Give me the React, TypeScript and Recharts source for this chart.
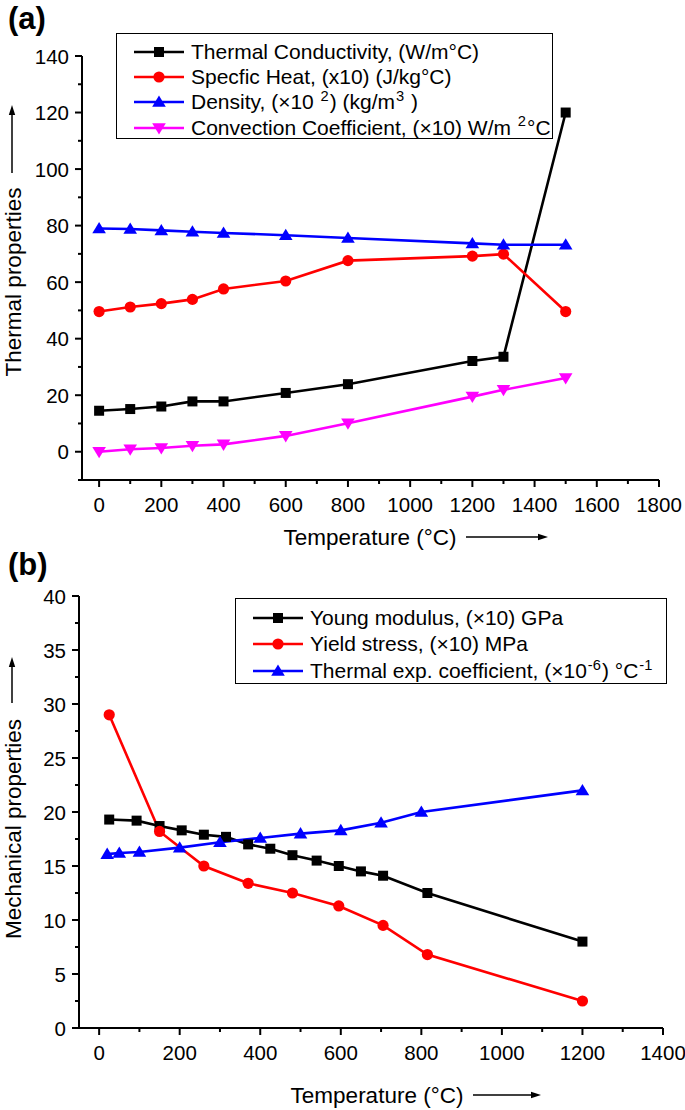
import React from 'react';
import { Legend, Line, LineChart, XAxis, YAxis } from 'recharts';

const FONT = '"Liberation Sans", Arial, Helvetica, sans-serif';

// (a) thermal properties vs temperature
const tempA = [0, 100, 200, 300, 400, 600, 800, 1200, 1300, 1500];
const conductivity = [14.5, 15.1, 16, 17.8, 17.8, 20.8, 23.9, 32.1, 33.6, 120];
const specificHeat = [49.6, 51.2, 52.4, 53.9, 57.6, 60.4, 67.6, 69.2, 69.9, 49.6];
const density = [79, 78.8, 78.3, 77.8, 77.4, 76.6, 75.6, 73.7, 73.2, 73.2];
const convection = [0, 0.9, 1.3, 2.1, 2.6, 5.6, 10.1, 19.5, 21.9, 26.1];

// (b) mechanical properties vs temperature
const tempYoung = [25, 93, 150, 205, 260, 315, 370, 425, 480, 540, 595, 650, 705, 815, 1200];
const young = [19.3, 19.2, 18.7, 18.3, 17.9, 17.7, 17, 16.6, 16, 15.5, 15, 14.5, 14.1, 12.5, 8];
const tempYield = [25, 150, 260, 370, 480, 595, 705, 815, 1200];
const yieldStress = [29, 18.2, 15, 13.4, 12.5, 11.3, 9.5, 6.8, 2.5];
const tempExpansion = [20, 50, 100, 200, 300, 400, 500, 600, 700, 800, 1200];
const expansion = [16.1, 16.2, 16.3, 16.7, 17.2, 17.6, 18, 18.3, 19, 20, 22];

// ticks (minor ones get no label)
const ticksXA = [0, 100, 200, 300, 400, 500, 600, 700, 800, 900, 1000, 1100, 1200, 1300, 1400, 1500, 1600, 1700, 1800];
const ticksYA = [-10, 0, 10, 20, 30, 40, 50, 60, 70, 80, 90, 100, 110, 120, 130, 140];
const ticksXB = [0, 100, 200, 300, 400, 500, 600, 700, 800, 900, 1000, 1100, 1200, 1300, 1400];
const ticksYB = [0, 2.5, 5, 7.5, 10, 12.5, 15, 17.5, 20, 22.5, 25, 27.5, 30, 32.5, 35, 37.5, 40];

const thermalRows = tempA.map((t, i) => ({
  t,
  k: conductivity[i],
  cp: specificHeat[i],
  rho: density[i],
  h: convection[i],
}));
const youngRows = tempYoung.map((t, i) => ({ t, young: young[i] }));
const yieldRows = tempYield.map((t, i) => ({ t, ys: yieldStress[i] }));
const expansionRows = tempExpansion.map((t, i) => ({ t, alpha: expansion[i] }));

type Shape = 'square' | 'circle' | 'up' | 'down';
const markerOf: Record<string, Shape> = {
  k: 'square',
  cp: 'circle',
  rho: 'up',
  h: 'down',
  young: 'square',
  ys: 'circle',
  alpha: 'up',
};
const legendOrder = ['k', 'cp', 'rho', 'h', 'young', 'ys', 'alpha'];

const LW = 2.6;

function Marker({ shape, cx, cy, color }: { shape: Shape; cx: number; cy: number; color: string }) {
  if (cx == null || cy == null) return <g />;
  switch (shape) {
    case 'square':
      return <rect x={cx - 5} y={cy - 5} width={10} height={10} fill={color} />;
    case 'circle':
      return <circle cx={cx} cy={cy} r={5.6} fill={color} />;
    case 'up':
      return <polygon points={`${cx},${cy - 6.5} ${cx - 6.8},${cy + 4.8} ${cx + 6.8},${cy + 4.8}`} fill={color} />;
    default:
      return <polygon points={`${cx},${cy + 6.5} ${cx - 6.8},${cy - 4.8} ${cx + 6.8},${cy - 4.8}`} fill={color} />;
  }
}

const dotFor = (key: string, color: string) => (p: any) =>
  <Marker key={`${key}-${p.index}`} shape={markerOf[key]} cx={p.cx} cy={p.cy} color={color} />;

function AxisTick(props: any) {
  const { x, y, payload, side, step } = props;
  const v = payload.value;
  const major = Math.abs(v % step) < 1e-6;
  const len = major ? 7 : 4;
  if (side === 'x') {
    return (
      <g>
        <line x1={x} x2={x} y1={y} y2={y + len} stroke="#000" strokeWidth={2} />
        {major && (
          <text x={x} y={y + 24} textAnchor="middle" dominantBaseline="central" fontSize={20.5} fontFamily={FONT} fill="#000">
            {v}
          </text>
        )}
      </g>
    );
  }
  return (
    <g>
      <line x1={x} x2={x - len} y1={y} y2={y} stroke="#000" strokeWidth={2} />
      {major && (
        <text x={x - 13} y={y} textAnchor="end" dominantBaseline="central" fontSize={20.5} fontFamily={FONT} fill="#000">
          {v}
        </text>
      )}
    </g>
  );
}

function Arrow({ x1, y1, x2, y2 }: { x1: number; y1: number; x2: number; y2: number }) {
  const ang = Math.atan2(y2 - y1, x2 - x1);
  const L = 10;
  const W = 3.2;
  const bx = x2 - L * Math.cos(ang);
  const by = y2 - L * Math.sin(ang);
  const px = -Math.sin(ang) * W;
  const py = Math.cos(ang) * W;
  return (
    <g>
      <line x1={x1} y1={y1} x2={bx} y2={by} stroke="#000" strokeWidth={1.5} />
      <polygon points={`${x2},${y2} ${bx + px},${by + py} ${bx - px},${by - py}`} fill="#000" />
    </g>
  );
}

// axis title with the trailing arrow, offsets relative to the axis box
function XTitle({ viewBox, text, textX, arrowFrom, arrowTo, dy }: any) {
  const { x, y } = viewBox;
  return (
    <g>
      <text x={x + textX} y={y + dy} textAnchor="middle" dominantBaseline="central" fontSize={22.5} fontFamily={FONT} fill="#000">
        {text}
      </text>
      <Arrow x1={x + arrowFrom} y1={y + dy} x2={x + arrowTo} y2={y + dy} />
    </g>
  );
}

function YTitle({ viewBox, text, textY, arrowFrom, arrowTo, cx }: any) {
  const { y } = viewBox;
  return (
    <g>
      <text
        x={cx}
        y={y + textY}
        transform={`rotate(-90, ${cx}, ${y + textY})`}
        textAnchor="middle"
        dominantBaseline="central"
        fontSize={22.5}
        fontFamily={FONT}
        fill="#000"
      >
        {text}
      </text>
      <Arrow x1={cx - 1} y1={y + arrowFrom} x2={cx - 1} y2={y + arrowTo} />
    </g>
  );
}

function richText(s: string) {
  const parts = s.split(/\^\{([^}]*)\}/);
  return parts.map((p, i) =>
    i % 2 ? (
      <span key={i} style={{ fontSize: '0.7em', position: 'relative', top: '-0.55em', lineHeight: 0, padding: '0 1px' }}>
        {p}
      </span>
    ) : (
      <span key={i}>{p}</span>
    ),
  );
}

function LegendBox({ payload, rowTop, rowH }: any) {
  const items = [...(payload || [])].sort(
    (a: any, b: any) => legendOrder.indexOf(a.dataKey) - legendOrder.indexOf(b.dataKey),
  );
  return (
    <div
      style={{
        width: '100%',
        height: '100%',
        boxSizing: 'border-box',
        border: '1.5px solid #000',
        background: '#fff',
        overflow: 'hidden',
        paddingTop: rowTop,
        fontFamily: FONT,
        fontSize: 21,
        color: '#000',
      }}
    >
      {items.map((e: any) => (
        <div key={e.dataKey} style={{ display: 'flex', alignItems: 'center', height: rowH, whiteSpace: 'nowrap' }}>
          <svg width={50} height={14} style={{ marginLeft: 17, flex: 'none' }}>
            <line x1={0} x2={50} y1={7} y2={7} stroke={e.color} strokeWidth={LW} />
            <Marker shape={markerOf[e.dataKey]} cx={25} cy={7} color={e.color} />
          </svg>
          <span style={{ marginLeft: 7 }}>{richText(e.value)}</span>
        </div>
      ))}
    </div>
  );
}

const axisLine = { stroke: '#000', strokeWidth: 2 };

function ThermalChart() {
  return (
    <LineChart width={685} height={560} data={thermalRows} margin={{ top: 56, right: 26, bottom: 40, left: 0 }}>
      <XAxis
        dataKey="t"
        type="number"
        domain={[-55, 1800]}
        ticks={ticksXA}
        interval={0}
        height={40}
        tickSize={0}
        tickMargin={0}
        tickLine={false}
        axisLine={axisLine}
        tick={<AxisTick side="x" step={200} />}
        label={{
          content: (p: any) => (
            <XTitle viewBox={p.viewBox} text="Temperature (°C)" textX={288} arrowFrom={384} arrowTo={466} dy={57} />
          ),
        }}
      />
      <YAxis
        type="number"
        domain={[-10, 140]}
        ticks={ticksYA}
        interval={0}
        width={82}
        tickSize={0}
        tickMargin={0}
        tickLine={false}
        axisLine={axisLine}
        tick={<AxisTick side="y" step={20} />}
        label={{
          content: (p: any) => (
            <YTitle viewBox={p.viewBox} text="Thermal properties" cx={13} textY={226} arrowFrom={117} arrowTo={49} />
          ),
        }}
      />
      <Legend
        layout="vertical"
        align="center"
        verticalAlign="middle"
        wrapperStyle={{ left: 116, top: 33, width: 437, height: 106 }}
        content={(p: any) => <LegendBox payload={p.payload} rowTop={5} rowH={25.3} />}
      />
      <Line dataKey="k" name="Thermal Conductivity, (W/m°C)" stroke="#000000" strokeWidth={LW} dot={dotFor('k', '#000000')} isAnimationActive={false} />
      <Line dataKey="cp" name="Specfic Heat, (x10) (J/kg°C)" stroke="#ff0000" strokeWidth={LW} dot={dotFor('cp', '#ff0000')} isAnimationActive={false} />
      <Line dataKey="rho" name="Density, (×10 ^{2}) (kg/m^{3} )" stroke="#0000ff" strokeWidth={LW} dot={dotFor('rho', '#0000ff')} isAnimationActive={false} />
      <Line dataKey="h" name="Convection Coefficient, (×10) W/m ^{2}°C" stroke="#ff00ff" strokeWidth={LW} dot={dotFor('h', '#ff00ff')} isAnimationActive={false} />
    </LineChart>
  );
}

function MechanicalChart() {
  return (
    <LineChart width={685} height={550} margin={{ top: 36, right: 22, bottom: 42, left: 0 }}>
      <XAxis
        dataKey="t"
        type="number"
        domain={[-50, 1400]}
        ticks={ticksXB}
        interval={0}
        height={40}
        tickSize={0}
        tickMargin={0}
        tickLine={false}
        axisLine={axisLine}
        tick={<AxisTick side="x" step={200} />}
        allowDuplicatedCategory={false}
        label={{
          content: (p: any) => (
            <XTitle viewBox={p.viewBox} text="Temperature (°C)" textX={298} arrowFrom={394} arrowTo={462} dy={67} />
          ),
        }}
      />
      <YAxis
        type="number"
        domain={[0, 40]}
        ticks={ticksYB}
        interval={0}
        width={79}
        tickSize={0}
        tickMargin={0}
        tickLine={false}
        axisLine={axisLine}
        tick={<AxisTick side="y" step={5} />}
        label={{
          content: (p: any) => (
            <YTitle viewBox={p.viewBox} text="Mechanical properties" cx={13} textY={233} arrowFrom={107} arrowTo={61} />
          ),
        }}
      />
      <Legend
        layout="vertical"
        align="center"
        verticalAlign="middle"
        wrapperStyle={{ left: 235, top: 38, width: 432, height: 86 }}
        content={(p: any) => <LegendBox payload={p.payload} rowTop={5.5} rowH={26.5} />}
      />
      <Line data={youngRows} dataKey="young" name="Young modulus, (×10) GPa" stroke="#000000" strokeWidth={LW} dot={dotFor('young', '#000000')} isAnimationActive={false} />
      <Line data={yieldRows} dataKey="ys" name="Yield stress, (×10) MPa" stroke="#ff0000" strokeWidth={LW} dot={dotFor('ys', '#ff0000')} isAnimationActive={false} />
      <Line data={expansionRows} dataKey="alpha" name="Thermal exp. coefficient, (×10^{-6}) °C^{-1}" stroke="#0000ff" strokeWidth={LW} dot={dotFor('alpha', '#0000ff')} isAnimationActive={false} />
    </LineChart>
  );
}

const panelLabel: React.CSSProperties = {
  position: 'absolute',
  left: 8,
  fontFamily: FONT,
  fontWeight: 'bold',
  fontSize: 31,
  lineHeight: 1,
  color: '#000',
};

export default function App() {
  return (
    <div style={{ position: 'absolute', left: 0, top: 0, width: 685, height: 1110, background: '#fff', fontFamily: FONT }}>
      <div style={{ position: 'absolute', left: 0, top: 0 }}>
        <ThermalChart />
      </div>
      <div style={{ position: 'absolute', left: 0, top: 560 }}>
        <MechanicalChart />
      </div>
      <div style={{ ...panelLabel, top: 3 }}>(a)</div>
      <div style={{ ...panelLabel, top: 549 }}>(b)</div>
    </div>
  );
}
